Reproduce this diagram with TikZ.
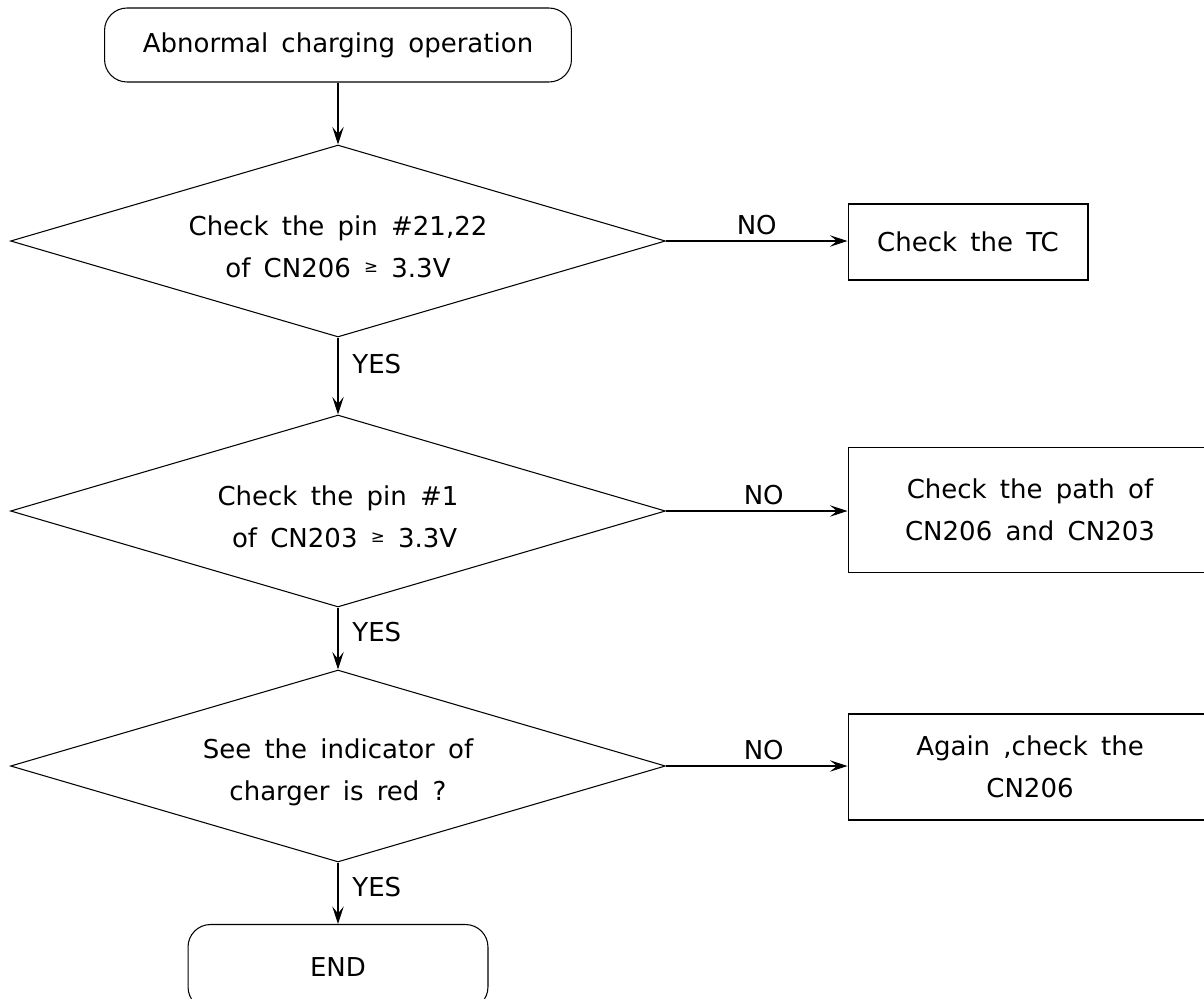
\documentclass[tikz,border=0pt]{standalone}
\usepackage{fontspec}
\setmainfont[WordSpace=1.6]{DejaVu Sans}
\usepackage{tikz}
\usetikzlibrary{arrows.meta}
\usetikzlibrary{shapes.geometric}

\newcommand{\smallgeq}{\raisebox{0.35ex}{\fontsize{9.5}{9.5}\selectfont ≥}}
\newcommand{\lowfirst}{\rule{0pt}{18pt}}

\begin{document}
\begin{tikzpicture}[x=0.02cm, y=-0.02cm, line width=0.6pt,
    every node/.style={font=\fontsize{14.8}{24}\selectfont},
    startbox/.style={draw, rectangle, rounded corners=0.45cm},
    decision/.style={draw, diamond, aspect=3.4, inner sep=0pt, align=center,
        minimum width=13.1cm, minimum height=3.84cm},
    actionbox/.style={draw, rectangle, align=center, minimum width=7.28cm},
    flow/.style={-{Stealth[length=10pt, width=6.5pt, inset=4pt]}},
    answer/.style={right, xshift=0.16cm}]
    % Cadre de la page
    \useasboundingbox (0,0) rectangle (1204,998);

    % Depart
    \node[startbox, minimum width=9.34cm, minimum height=1.48cm] (start) at (338,45) {Abnormal charging operation};

    % Les trois tests
    \node[decision] (pin21) at (338,241) {\lowfirst Check the pin \#21,22\\of CN206 \smallgeq\ 3.3V};
    \node[decision] (pin1) at (338,511) {\lowfirst Check the pin \#1\\\ of CN203 \smallgeq\ 3.3V};
    \node[decision] (led) at (338,766) {\lowfirst See the indicator of\\charger is red ?};

    % Fin
    \node[startbox, minimum width=6cm, minimum height=1.7cm] (stop) at (338,967) {END};

    % Actions a droite
    \node[actionbox, minimum width=4.8cm, minimum height=1.52cm] (tc) at (968,242) {Check the TC};
    \node[actionbox, minimum height=2.5cm] (path) at (1030,510) {Check the path of\\CN206 and CN203};
    \node[actionbox, minimum height=2.12cm] (again) at (1030,767) {Again ,check the\\CN206};

    % Fleches verticales
    \draw[flow] (start) -- (pin21);
    \draw[flow] (pin21.south) -- node[answer, pos=0.35] (yes1) {YES} (pin1.north);
    \draw[flow] (pin1.south) -- node[answer, pos=0.4] (yes2) {YES} (led.north);
    \draw[flow] (led.south) -- node[answer, pos=0.4] (yes3) {YES} (stop.north);

    % Fleches horizontales
    \draw[flow] (pin21.east) -- node[above] (no1) {NO} (pin21.east -| tc.west);
    \draw[flow] (pin1.east) -- node[above, xshift=0.14cm] (no2) {NO} (pin1.east -| path.west);
    \draw[flow] (led.east) -- node[above, xshift=0.14cm] (no3) {NO} (led.east -| again.west);
\end{tikzpicture}
\end{document}
